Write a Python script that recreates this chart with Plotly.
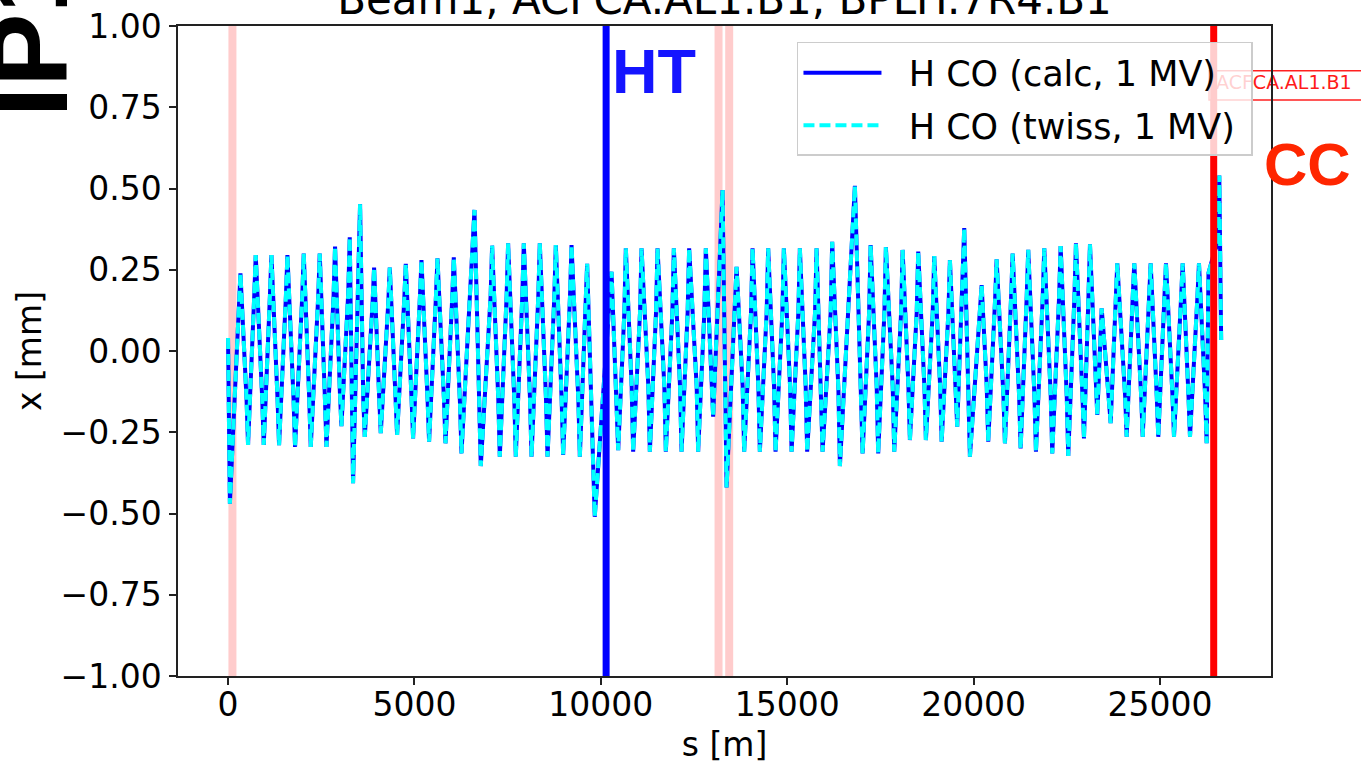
import plotly.graph_objects as go

# ---- data ----
s_pos = [
    0, 50, 180, 293, 333,
    497, 537, 703, 743, 918, 958, 1124, 1164,
    1329, 1369, 1553, 1593, 1758, 1798, 1991, 2031,
    2179, 2219, 2420, 2460, 2600, 2640, 2831, 2871,
    3002, 3042, 3225, 3265, 3354, 3542,
    3628, 3668, 3878, 3918, 4057, 4097, 4299, 4339,
    4495, 4535, 4728, 4768, 4924, 4964, 5149, 5189,
    5353, 5393, 5578, 5618, 5793, 5833, 6016, 6056,
    6222, 6262, 6611, 6780,
    7044, 7084, 7250, 7290, 7473, 7513, 7679, 7719,
    7894, 7934, 8101, 8141, 8323, 8363, 8530, 8570,
    8753, 8793, 8949, 8989, 9174, 9214, 9397, 9437,
    9593, 9633, 9837, 9973, 10287, 10466,
    10631, 10671, 10827, 10867, 11052, 11092, 11275, 11315,
    11481, 11521, 11704, 11744, 11919, 11959, 12125, 12165,
    12329, 12369, 12571, 12611, 12777, 12817,
    13013, 13265, 13373, 13641,
    13805, 13845, 14030, 14070, 14226, 14266, 14449, 14489,
    14647, 14687, 14870, 14910, 15077, 15117, 15299, 15339,
    15495, 15535, 15747, 15787, 15908, 15948, 16166, 16206,
    16373, 16413, 16815, 17022,
    17197, 17237, 17400, 17440, 17607, 17647, 17830, 17870,
    18055, 18095, 18251, 18291, 18474, 18514, 18680, 18720,
    18903, 18943, 19102, 19142, 19324, 19364,
    19560, 19748, 19901, 20215,
    20352, 20392, 20577, 20617, 20800, 20840, 21007, 21047,
    21221, 21261, 21425, 21465, 21632, 21672, 21855, 21895,
    22069, 22109, 22294, 22334, 22498, 22538, 22705, 22745,
    22920, 22960, 23081, 23121,
    23317, 23435, 23676,
    23813, 23853, 24065, 24105, 24269, 24309, 24495, 24535,
    24709, 24749, 24913, 24953, 25120, 25160, 25335, 25375,
    25568, 25608, 25764, 25804, 26005, 26045, 26211, 26251,
    26300, 26470, 26560, 26590, 26640,
]
x_co_mm = [
    0.04, -0.47, -0.14, 0.15, 0.239,
    -0.15, -0.289, 0.17, 0.295, -0.15, -0.289, 0.17, 0.295,
    -0.15, -0.29, 0.17, 0.295, -0.15, -0.295, 0.17, 0.30,
    -0.15, -0.295, 0.17, 0.30, -0.15, -0.295, 0.17, 0.321,
    -0.13, -0.231, 0.18, 0.35, -0.407, 0.452,
    -0.15, -0.264, 0.15, 0.257, -0.15, -0.253, 0.15, 0.257,
    -0.15, -0.258, 0.16, 0.268, -0.15, -0.269, 0.17, 0.28,
    -0.15, -0.279, 0.17, 0.285, -0.15, -0.284, 0.17, 0.288,
    -0.16, -0.315, 0.434, -0.354,
    0.17, 0.324, -0.15, -0.325, 0.17, 0.331, -0.15, -0.325,
    0.17, 0.331, -0.15, -0.325, 0.17, 0.331, -0.15, -0.325,
    0.17, 0.326, -0.15, -0.32, 0.17, 0.326, -0.15, -0.325,
    0.15, 0.268, -0.51, -0.28, 0.244, -0.305,
    0.12, 0.316, -0.11, -0.31, 0.12, 0.316, -0.11, -0.31,
    0.12, 0.316, -0.11, -0.31, 0.12, 0.316, -0.11, -0.31,
    0.12, 0.316, -0.11, -0.31, 0.12, 0.316,
    -0.202, 0.495, -0.42, 0.259,
    -0.11, -0.31, 0.12, 0.316, -0.11, -0.31, 0.12, 0.316,
    -0.11, -0.31, 0.12, 0.316, -0.11, -0.31, 0.12, 0.316,
    -0.11, -0.31, 0.12, 0.316, -0.11, -0.31, 0.12, 0.336,
    -0.12, -0.354, 0.508, -0.315,
    0.12, 0.326, -0.11, -0.315, 0.12, 0.32, -0.11, -0.31,
    0.12, 0.311, -0.11, -0.274, 0.12, 0.306, -0.11, -0.274,
    0.12, 0.292, -0.11, -0.279, 0.12, 0.28,
    -0.233, 0.378, -0.325, 0.203,
    -0.11, -0.279, 0.16, 0.282, -0.14, -0.284, 0.17, 0.30,
    -0.14, -0.30, 0.17, 0.311, -0.14, -0.31, 0.17, 0.316,
    -0.14, -0.315, 0.17, 0.323, -0.14, -0.323, 0.17, 0.331,
    -0.14, -0.269, 0.17, 0.328,
    -0.197, 0.131, -0.222,
    0.17, 0.27, -0.14, -0.264, 0.17, 0.27, -0.14, -0.264,
    0.17, 0.27, -0.14, -0.264, 0.17, 0.27, -0.14, -0.264,
    0.17, 0.27, -0.14, -0.264, 0.17, 0.27, -0.14, -0.284,
    0.24, 0.31, 0.33, 0.54, 0.034,
]

series_names = ["H CO (calc, 1 MV)", "H CO (twiss, 1 MV)"]
title_text = "Beam1, ACFCA.AL1.B1, BPLH.7R4.B1"
x_tick_vals = [0, 5000, 10000, 15000, 20000, 25000]
y_tick_vals = [-1.0, -0.75, -0.5, -0.25, 0.0, 0.25, 0.5, 0.75, 1.0]

cc_pink_s = [118, 13158, 13443]   # faint crab-cavity markers
ht_s = 10142                       # HT marker (blue)
cc_s = 26440                       # CC marker (red)
label_text = "ACFCA.AL1.B1"
label_s = 26502
label_x = 0.82

NB = "\u00a0"

# ---- figure ----
fig = go.Figure()
fig.add_trace(go.Scatter(
    x=s_pos, y=x_co_mm, mode="lines", name=NB * 2 + series_names[0] + NB,
    line=dict(color="#0000ff", width=4), legendgroup="a"))
fig.add_trace(go.Scatter(
    x=s_pos, y=x_co_mm, mode="lines", name=NB * 2 + series_names[1] + NB,
    line=dict(color="#00ffff", width=4, dash="11px,5px"), legendgroup="b"))
fig.add_trace(go.Scatter(
    x=[label_s], y=[label_x], mode="text", text=[label_text],
    textposition="middle right", cliponaxis=False, showlegend=False,
    hoverinfo="skip",
    textfont=dict(family="DejaVu Sans", size=19, color="#ff1a1a")))

shapes = []
for s in cc_pink_s:
    shapes.append(dict(type="line", xref="x", yref="paper", x0=s, x1=s, y0=0, y1=1,
                       line=dict(color="rgba(255,0,0,0.2)", width=8), layer="below"))
shapes.append(dict(type="line", xref="x", yref="paper", x0=ht_s, x1=ht_s, y0=0, y1=1,
                   line=dict(color="#0000ff", width=7), layer="above"))
shapes.append(dict(type="line", xref="x", yref="paper", x0=cc_s, x1=cc_s, y0=0, y1=1,
                   line=dict(color="#ff0000", width=7), layer="above"))
# label box
shapes.append(dict(type="rect", xref="paper", yref="paper", x0=0.9433, x1=1.2,
                   y0=0.8862, y1=0.9312, fillcolor="white",
                   line=dict(color="#ff2020", width=1.5), layer="below"))

annotations = [
    dict(text="<b>HT</b>", xref="paper", yref="paper", x=0.3951, y=0.9312,
         xanchor="left", yanchor="middle", showarrow=False,
         font=dict(family="Liberation Sans", size=63, color="#1414ff")),
    dict(text="<b>CC</b>", xref="paper", yref="paper", x=0.9918, y=0.7874,
         xanchor="left", yanchor="middle", showarrow=False,
         font=dict(family="Liberation Sans", size=60, color="#ff2600")),
    dict(text="<b>IP1</b>", xref="paper", yref="paper", x=-0.1366, y=0.9869,
         xanchor="center", yanchor="middle", showarrow=False, textangle=-90,
         font=dict(family="Liberation Sans", size=110, color="black")),
]

axis_common = dict(showline=True, mirror=True, linecolor="#222222", linewidth=1.5,
                   ticks="outside", ticklen=7, tickwidth=1.5, tickcolor="#222222",
                   showgrid=False, zeroline=False, automargin=False,
                   tickfont=dict(family="DejaVu Sans", size=33, color="black"))

fig.update_layout(
    width=1361, height=764,
    margin=dict(l=178, r=90, t=26, b=88, autoexpand=False),
    paper_bgcolor="white", plot_bgcolor="white",
    font=dict(family="DejaVu Sans", color="black"),
    title=dict(text=title_text, x=0.5, xref="paper", xanchor="center",
               y=1 - 14 / 764, yref="container", yanchor="bottom", automargin=False,
               font=dict(family="DejaVu Sans", size=42, color="black")),
    xaxis=dict(range=[-1342, 27977], tickmode="array", tickvals=x_tick_vals,
               tickformat="d", ticklabelstandoff=-8,
               title=dict(text="s [m]", standoff=10,
                          font=dict(family="DejaVu Sans", size=33, color="black")),
               **axis_common),
    yaxis=dict(range=[-1, 1], tickmode="array", tickvals=y_tick_vals,
               tickformat=".2f", ticklabelstandoff=1,
               title=dict(text="x [mm]", standoff=9,
                          font=dict(family="DejaVu Sans", size=33, color="black")),
               **axis_common),
    legend=dict(x=0.9835, y=0.9754, xanchor="right", yanchor="top",
                bgcolor="rgba(255,255,255,0.8)", bordercolor="#cccccc", borderwidth=1.5,
                font=dict(family="DejaVu Sans", size=35, color="black"),
                itemwidth=78, tracegroupgap=4),
    shapes=shapes, annotations=annotations,
    showlegend=True,
)

fig.write_html("out.html", config={"displayModeBar": False},
               post_script="document.body.style.margin='0px';")
